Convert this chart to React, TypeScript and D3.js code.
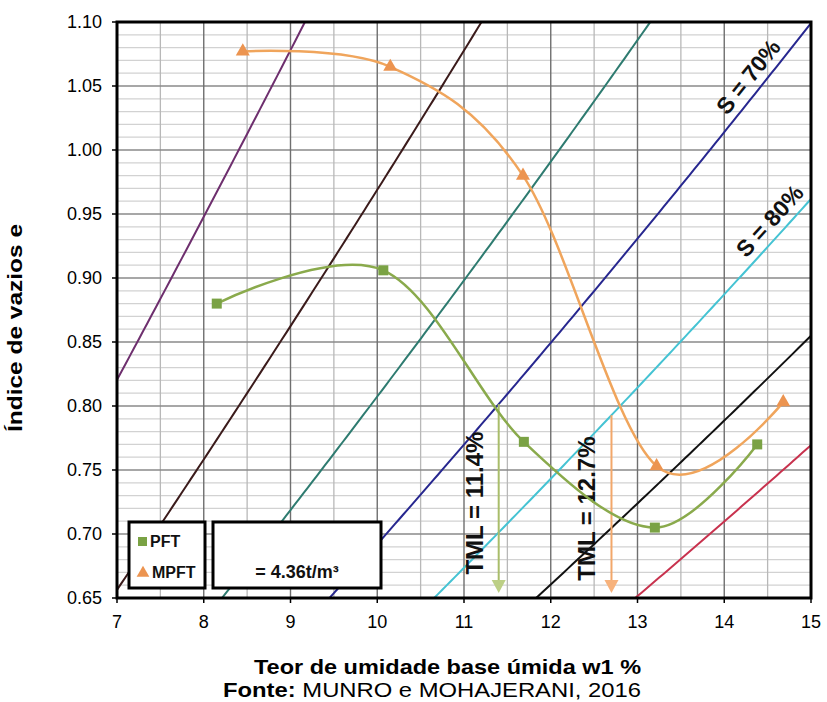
import React from "react";
import * as d3 from "d3";

// ---------- data ----------
const xTicks = [7, 8, 9, 10, 11, 12, 13, 14, 15];
const yTicks = [0.65, 0.7, 0.75, 0.8, 0.85, 0.9, 0.95, 1.0, 1.05, 1.1];

const pftW = [8.15, 10.07, 11.69, 13.2, 14.38];
const pftE = [0.88, 0.906, 0.772, 0.705, 0.77];

const mpftW = [8.45, 10.15, 11.68, 13.22, 14.68];
const mpftE = [1.077, 1.065, 0.98, 0.753, 0.803];

const saturations = [40, 50, 60, 70, 80, 90, 100];
const satColors = ["#6e2f6e", "#3b1b1b", "#2e7b70", "#27278f", "#45c3d3", "#111111", "#c8324e"];
const density = 4.36;

const tmlValues = [11.4, 12.7];
const tmlSat = [70, 80];
const tmlLabels = ["TML = 11.4%", "TML = 12.7%"];
const tmlLine = ["#a9bd6a", "#f2a76a"];
const tmlHead = ["#bccf85", "#f7b27c"];

const satLabels = [
  { s: 70, w: 14.42, text: "S = 70%" },
  { s: 80, w: 14.66, text: "S = 80%" },
];

const W = 827;
const H = 702;
const left = 117;
const right = 811;
const top = 22;
const bottom = 598;

const FONT = "'Liberation Sans', Arial, Helvetica, sans-serif";

export default function App() {
  const x = d3.scaleLinear().domain([7, 15]).range([left, right]);
  const y = d3.scaleLinear().domain([0.65, 1.1]).range([bottom, top]);

  const voidRatio = (w: number, s: number) => ((w / (100 - w)) * density) / (s / 100);

  const satLine = d3
    .line<number[]>()
    .x((d) => x(d[0]))
    .y((d) => y(d[1]));

  const smooth = d3
    .line<number[]>()
    .x((d) => x(d[0]))
    .y((d) => y(d[1]))
    .curve(d3.curveCardinal.tension(0));

  const minorX = d3.range(7, 15.001, 0.5).filter((v) => Math.abs(v - Math.round(v)) > 0.01);
  const minorY = d3.range(65, 110.5, 1).map((v) => v / 100).filter((v) => Math.round(v * 100) % 5 !== 0);

  const pftData = pftW.map((w, i) => [w, pftE[i]]);
  const mpftData = mpftW.map((w, i) => [w, mpftE[i]]);

  const triangle = d3.symbol().type(d3.symbolTriangle).size(85)();
  const triangleSmall = d3.symbol().type(d3.symbolTriangle).size(70)();

  return (
    <svg
      width={W}
      height={H}
      style={{ position: "absolute", left: 0, top: 0, background: "#fff" }}
      fontFamily={FONT}
    >
      <defs>
        <clipPath id="plot">
          <rect x={left} y={top} width={right - left} height={bottom - top} />
        </clipPath>
      </defs>
      <rect x={0} y={0} width={W} height={H} fill="#fff" />

      {/* grid */}
      <g>
        {minorY.map((v) => (
          <line key={"my" + v} x1={left} x2={right} y1={y(v)} y2={y(v)} stroke="#d2d2d2" strokeWidth={1.3} />
        ))}
        {minorX.map((v) => (
          <line key={"mx" + v} x1={x(v)} x2={x(v)} y1={top} y2={bottom} stroke="#b8b8b8" strokeWidth={1.3} />
        ))}
        {yTicks.map((v) => (
          <line key={"gy" + v} x1={left} x2={right} y1={y(v)} y2={y(v)} stroke="#8a8a8a" strokeWidth={1.6} />
        ))}
        {xTicks.map((v) => (
          <line key={"gx" + v} x1={x(v)} x2={x(v)} y1={top} y2={bottom} stroke="#6f6f6f" strokeWidth={1.4} />
        ))}
      </g>

      {/* saturation lines */}
      <g clipPath="url(#plot)">
        {saturations.map((s, i) => {
          const pts = d3.range(7, 15.001, 0.05).map((w) => [w, voidRatio(w, s)]);
          return <path key={"s" + s} d={satLine(pts) || ""} fill="none" stroke={satColors[i]} strokeWidth={2} />;
        })}
      </g>

      {/* saturation labels */}
      {satLabels.map((l) => {
        const e = voidRatio(l.w, l.s);
        const e2 = voidRatio(l.w + 0.1, l.s);
        const ang = (Math.atan2(y(e2) - y(e), x(l.w + 0.1) - x(l.w)) * 180) / Math.PI;
        return (
          <text
            key={l.text}
            transform={`translate(${x(l.w)},${y(e)}) rotate(${ang})`}
            dy={-8}
            textAnchor="middle"
            fontWeight="bold"
            fontSize={23}
            fill="#111"
          >
            {l.text}
          </text>
        );
      })}

      {/* TML arrows */}
      {tmlValues.map((t, i) => {
        const y0 = y(voidRatio(t, tmlSat[i]));
        const tipY = bottom - 5;
        const xx = x(t);
        return (
          <g key={"tml" + t}>
            <line x1={xx} x2={xx} y1={y0} y2={tipY - 10} stroke={tmlLine[i]} strokeWidth={2} />
            <path
              d={`M${xx - 7},${tipY - 13} L${xx + 7},${tipY - 13} L${xx},${tipY} Z`}
              fill={tmlHead[i]}
            />
            <text
              transform={`translate(${xx - 16},${(y0 + bottom) / 2 + 2}) rotate(-90)`}
              textAnchor="middle"
              fontWeight="bold"
              fontSize={24}
              fill="#111"
            >
              {tmlLabels[i]}
            </text>
          </g>
        );
      })}

      {/* series curves */}
      <path d={smooth(pftData) || ""} fill="none" stroke="#8aaa4c" strokeWidth={2.5} />
      <path d={smooth(mpftData) || ""} fill="none" stroke="#f0a55c" strokeWidth={2.5} />
      {pftData.map((d, i) => (
        <rect key={"p" + i} x={x(d[0]) - 5} y={y(d[1]) - 5} width={10} height={10} fill="#7aa244" />
      ))}
      {mpftData.map((d, i) => (
        <path key={"m" + i} d={triangle || ""} transform={`translate(${x(d[0])},${y(d[1])})`} fill="#ec9450" />
      ))}

      {/* frame */}
      <rect x={left} y={top} width={right - left} height={bottom - top} fill="none" stroke="#000" strokeWidth={3} />

      {/* y ticks */}
      {yTicks.map((v) => (
        <g key={"yt" + v}>
          <line x1={left - 5} x2={left} y1={y(v)} y2={y(v)} stroke="#000" strokeWidth={1.5} />
          <text x={102} y={y(v)} dy="0.35em" textAnchor="end" fontSize={18} fill="#000">
            {v.toFixed(2)}
          </text>
        </g>
      ))}
      {/* x ticks */}
      {xTicks.map((v) => (
        <g key={"xt" + v}>
          <line x1={x(v)} x2={x(v)} y1={bottom} y2={bottom + 5} stroke="#000" strokeWidth={1.5} />
          <text x={x(v)} y={628} textAnchor="middle" fontSize={18} fill="#000">
            {v}
          </text>
        </g>
      ))}

      {/* legend */}
      <rect x={129} y={522} width={76} height={66} fill="#fff" stroke="#000" strokeWidth={3} />
      <rect x={213} y={522} width={168} height={66} fill="#fff" stroke="#000" strokeWidth={3} />
      <rect x={138} y={537} width={9} height={9} fill="#7aa244" />
      <path d={triangleSmall || ""} transform="translate(143,573)" fill="#ec9450" />
      <text x={150} y={547} fontSize={16} fontWeight="bold" fill="#111">PFT</text>
      <text x={152} y={578} fontSize={16} fontWeight="bold" fill="#111">MPFT</text>
      <text x={297} y={578} textAnchor="middle" fontSize={18} fontWeight="bold" fill="#111">
        = 4.36t/m³
      </text>

      {/* axis titles */}
      <text
        transform={`translate(22,${328}) rotate(-90)`}
        textAnchor="middle"
        fontSize={21}
        fontWeight="bold"
        fill="#000"
        textLength={208}
        lengthAdjust="spacingAndGlyphs"
      >
        Índice de vazios e
      </text>
      <text
        x={254}
        y={674}
        fontSize={21}
        fontWeight="bold"
        fill="#000"
        textLength={387}
        lengthAdjust="spacingAndGlyphs"
      >
        Teor de umidade base úmida w1 %
      </text>
      <text
        x={223}
        y={697}
        fontSize={21}
        fill="#000"
        textLength={418}
        lengthAdjust="spacingAndGlyphs"
      >
        <tspan fontWeight="bold">Fonte:</tspan> MUNRO e MOHAJERANI, 2016
      </text>
    </svg>
  );
}
